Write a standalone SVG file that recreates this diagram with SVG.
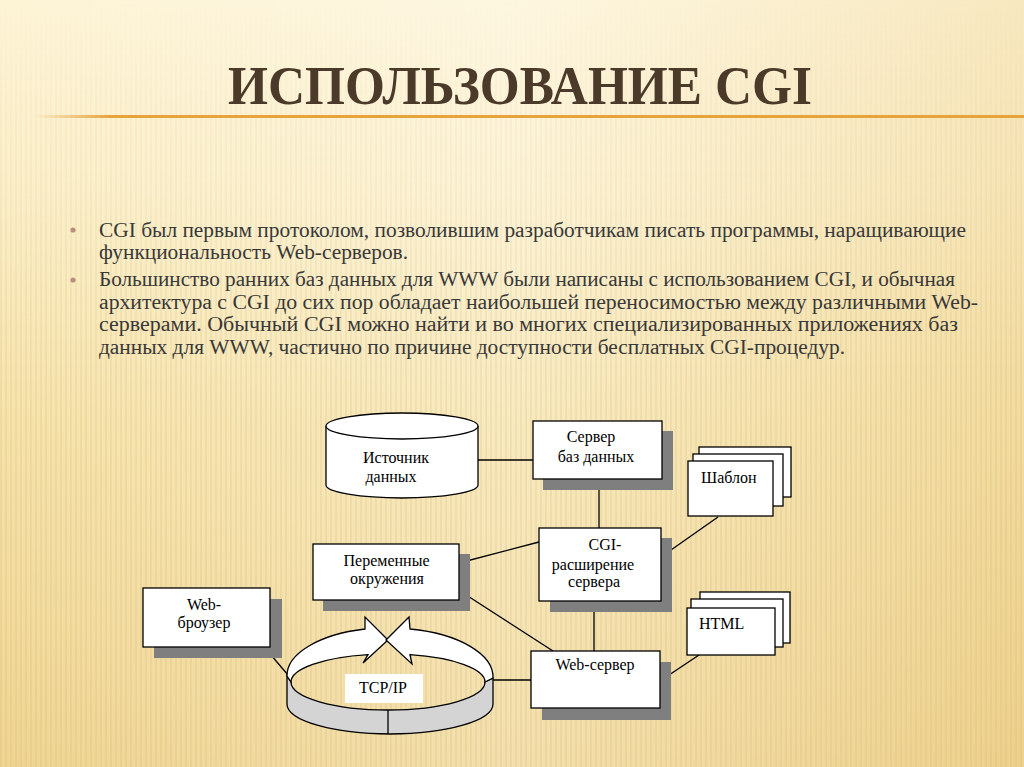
<svg xmlns="http://www.w3.org/2000/svg" width="1024" height="767" viewBox="0 0 1024 767">
<defs>
<linearGradient id="bg" x1="0" y1="0" x2="0" y2="1">
<stop offset="0" stop-color="#fdf4d6"/>
<stop offset="0.25" stop-color="#fbefc9"/>
<stop offset="0.55" stop-color="#f6e3ab"/>
<stop offset="1" stop-color="#efd592"/>
</linearGradient>
<linearGradient id="side" x1="0" y1="0" x2="1" y2="0">
<stop offset="0" stop-color="#ffffff" stop-opacity="0"/>
<stop offset="0.5" stop-color="#ffffff" stop-opacity="0.25"/>
<stop offset="1" stop-color="#e6c47a" stop-opacity="0.25"/>
</linearGradient>
<pattern id="stripes" width="5" height="10" patternUnits="userSpaceOnUse">
<rect x="0" y="0" width="2" height="10" fill="#c9a55a" opacity="0.15"/>
</pattern>
<linearGradient id="stripeMask" x1="0" y1="0" x2="0" y2="1">
<stop offset="0" stop-color="#fff" stop-opacity="0"/>
<stop offset="0.18" stop-color="#fff" stop-opacity="0.5"/>
<stop offset="0.5" stop-color="#fff" stop-opacity="1"/>
<stop offset="1" stop-color="#fff" stop-opacity="1"/>
</linearGradient>
<mask id="sm"><rect width="1024" height="767" fill="url(#stripeMask)"/></mask>
<linearGradient id="rule" x1="0" y1="0" x2="1" y2="0">
<stop offset="0" stop-color="#e8a33a" stop-opacity="0"/>
<stop offset="0.08" stop-color="#e8a33a"/>
<stop offset="1" stop-color="#e8a33a"/>
</linearGradient>
<style>
.box{fill:#ffffff;stroke:#000000;stroke-width:1.3}
.shadow{fill:#7f7f7f}
.lbl{font-family:"Liberation Serif","Times New Roman",serif;font-size:16px;fill:#000000}
.conn{stroke:#000000;stroke-width:1.3;fill:none}
.body{font-family:"Liberation Serif","Times New Roman",serif;font-size:20px;fill:#383838}
.ring{stroke:#000000;stroke-width:1.3;stroke-linejoin:miter}
</style>
</defs>

<rect width="1024" height="767" fill="url(#bg)"/>
<rect width="1024" height="767" fill="url(#side)"/>
<rect width="1024" height="767" fill="url(#stripes)" mask="url(#sm)"/>

<g id="title">
<text x="228" y="104" textLength="584" lengthAdjust="spacingAndGlyphs" font-family="'Liberation Serif','Times New Roman',serif" font-weight="bold" font-size="55" fill="#4b3a2a">ИСПОЛЬЗОВАНИЕ CGI</text>
<rect x="33" y="115" width="991" height="3" fill="url(#rule)"/>
</g>

<g id="bullets">
<circle cx="73" cy="230" r="2.6" fill="#b8907c"/>
<circle cx="73" cy="280" r="2.6" fill="#b8907c"/>
<text class="body" x="99" y="236.5" textLength="867" lengthAdjust="spacingAndGlyphs">CGI был первым протоколом, позволившим разработчикам писать программы, наращивающие</text>
<text class="body" x="99" y="258.5" textLength="309" lengthAdjust="spacingAndGlyphs">функциональность Web-серверов.</text>
<text class="body" x="99" y="286" textLength="856" lengthAdjust="spacingAndGlyphs">Большинство ранних баз данных для WWW были написаны с использованием CGI, и обычная</text>
<text class="body" x="99" y="308.5" textLength="879" lengthAdjust="spacingAndGlyphs">архитектура с CGI до сих пор обладает наибольшей переносимостью между различными Web-</text>
<text class="body" x="99" y="331" textLength="859" lengthAdjust="spacingAndGlyphs">серверами. Обычный CGI можно найти и во многих специализированных приложениях баз</text>
<text class="body" x="99" y="353.5" textLength="746" lengthAdjust="spacingAndGlyphs">данных для WWW, частично по причине доступности бесплатных CGI-процедур.</text>
</g>

<g id="connectors">
<line class="conn" x1="478" y1="460" x2="533" y2="460"/>
<line class="conn" x1="599" y1="479" x2="599" y2="528"/>
<line class="conn" x1="459" y1="563" x2="539" y2="542"/>
<line class="conn" x1="460" y1="591" x2="553" y2="651"/>
<line class="conn" x1="594" y1="601" x2="594" y2="651"/>
<line class="conn" x1="661" y1="557" x2="718" y2="517"/>
<line class="conn" x1="660" y1="681" x2="699" y2="655"/>
<line class="conn" x1="493" y1="680" x2="531" y2="680"/>
<line class="conn" x1="265" y1="648" x2="288" y2="675"/>
</g>

<g id="node-source">
<path class="box" d="M326,426 L326,485 A76,13 0 0 0 478,485 L478,426"/>
<ellipse class="box" cx="402" cy="426" rx="76" ry="13"/>
<text class="lbl" x="396" y="463" text-anchor="middle">Источник</text>
<text class="lbl" x="391" y="481.5" text-anchor="middle">данных</text>
</g>

<g id="node-dbserver">
<rect class="shadow" x="543" y="431" width="130" height="59"/>
<rect class="box" x="533" y="421" width="129" height="58"/>
<text class="lbl" x="591" y="442" text-anchor="middle">Сервер</text>
<text class="lbl" x="596" y="461.5" text-anchor="middle">баз данных</text>
</g>

<g id="node-cgi">
<rect class="shadow" x="550" y="538" width="122" height="74"/>
<rect class="box" x="539" y="528" width="122" height="73"/>
<text class="lbl" x="605" y="550" text-anchor="middle">CGI-</text>
<text class="lbl" x="593" y="570" text-anchor="middle">расширение</text>
<text class="lbl" x="594" y="587" text-anchor="middle">сервера</text>
</g>

<g id="node-env">
<rect class="shadow" x="323" y="554" width="147" height="57"/>
<rect class="box" x="313" y="544" width="146" height="56"/>
<text class="lbl" x="386.5" y="566" text-anchor="middle">Переменные</text>
<text class="lbl" x="387" y="584" text-anchor="middle">окружения</text>
</g>

<g id="node-browser">
<rect class="shadow" x="154" y="599" width="128" height="59"/>
<rect class="box" x="143" y="588" width="127" height="59"/>
<text class="lbl" x="204" y="610" text-anchor="middle">Web-</text>
<text class="lbl" x="204" y="628" text-anchor="middle">броузер</text>
</g>

<g id="node-tcpip">
<path class="ring" fill="#d4d4d4" d="M287,676 L291,682 A97,28 0 0 0 485,682 L493,678 L493,704 A103,30 0 0 1 287,704 Z"/>
<line class="conn" x1="388" y1="710" x2="388" y2="734"/>
<path class="ring" fill="#ffffff" d="M291,682 L287,676 A103,48 0 0 1 365,629 L365,617 L388,640 L363,663 L368,654.6 A97,28 0 0 0 291,682 Z"/>
<path class="ring" fill="#ffffff" d="M485,682 L493,678 A103,49 0 0 0 410,629 L409,617 L386,640 L412,664 L410,654.7 A97,28 0 0 1 485,682 Z"/>
<rect x="345" y="674" width="78" height="29" fill="#ffffff"/>
<text class="lbl" x="383" y="693" text-anchor="middle">TCP/IP</text>
</g>

<g id="node-webserver">
<rect class="shadow" x="542" y="662" width="129" height="58"/>
<rect class="box" x="531" y="651" width="129" height="57"/>
<text class="lbl" x="595" y="670" text-anchor="middle">Web-сервер</text>
</g>

<g id="node-template">
<rect class="box" x="699" y="447" width="92" height="50"/>
<rect class="box" x="693" y="454" width="90" height="52"/>
<rect class="box" x="688" y="461" width="85" height="55"/>
<text class="lbl" x="701" y="483">Шаблон</text>
</g>

<g id="node-html">
<rect class="box" x="700" y="592" width="90" height="51"/>
<rect class="box" x="691" y="599" width="92" height="48"/>
<rect class="box" x="687" y="608" width="88" height="47"/>
<text class="lbl" x="699" y="629">HTML</text>
</g>
</svg>
